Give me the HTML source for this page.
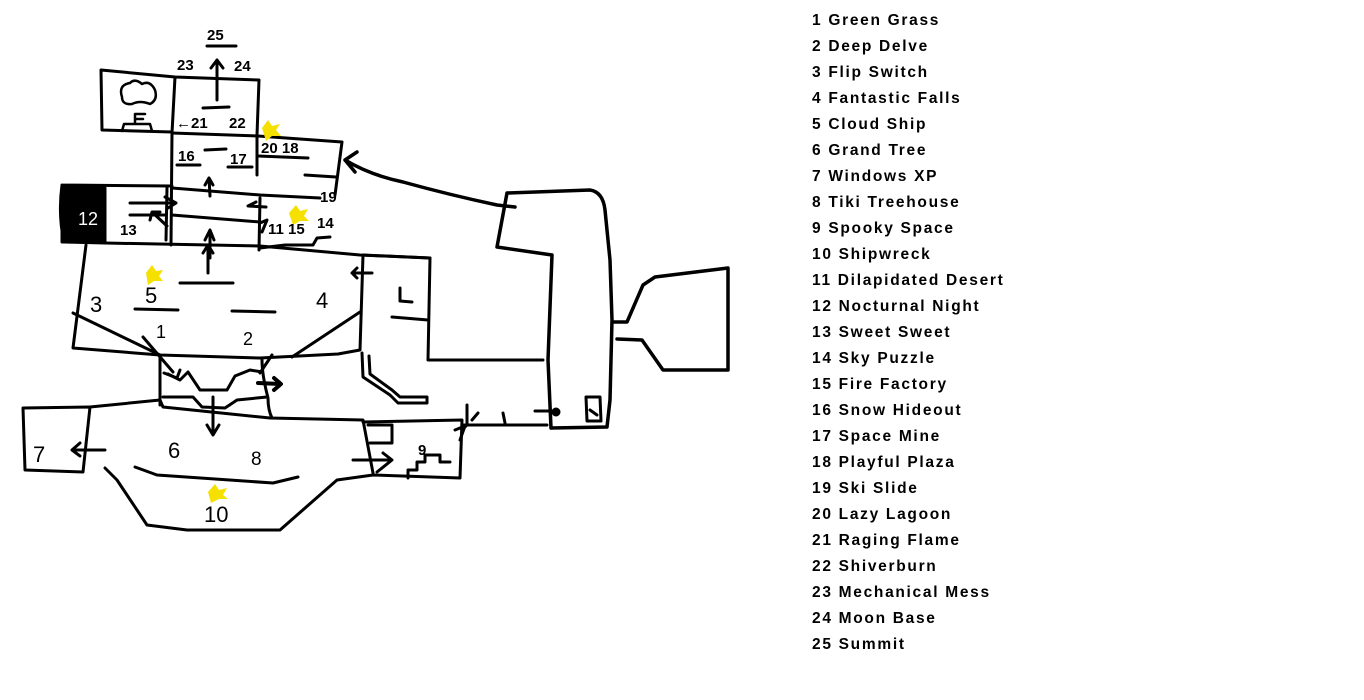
<!DOCTYPE html>
<html><head><meta charset="utf-8"><style>
html,body{margin:0;padding:0;background:#fff;width:1364px;height:700px;overflow:hidden}
svg{position:absolute;left:0;top:0}
.leg{font-family:"Liberation Sans",sans-serif;font-weight:bold;font-size:15.5px;letter-spacing:1.7px;fill:#000}
.n{font-family:"Liberation Sans",sans-serif;font-size:22px;fill:#000}
.s{font-family:"Liberation Sans",sans-serif;font-size:15px;font-weight:bold;fill:#000}
</style></head><body>
<svg width="1364" height="700" viewBox="0 0 1364 700">
<g fill="none" stroke="#000" stroke-width="3" stroke-linecap="round" stroke-linejoin="round">
<line x1="207" y1="46" x2="236" y2="46"/>
<path d="M217 100 L217 60 M211 68 L217 60 L223 68"/>
<path d="M101 70 L175 77 L259 80 L257 135 M101 70 L102 130 L172 132 M175 77 L172 133 L171 245"/>
<path d="M122 97 Q118 85 130 83 Q135 78 142 84 Q150 80 155 90 Q158 100 150 104 Q140 100 132 104 Q122 105 122 97 Z" stroke-width="2.5"/>
<path d="M122 131 L124 124 L150 124 L152 131 M135 124 L135 114 L145 114 M135 119 L143 119" stroke-width="2.5"/>
<line x1="203" y1="108" x2="229" y2="107"/>
<path d="M172 133 L258 136 L342 142 L335 195"/>
<line x1="257" y1="135" x2="257" y2="175"/>
<line x1="177" y1="165" x2="200" y2="165"/><line x1="228" y1="167" x2="252" y2="167"/><line x1="205" y1="150" x2="226" y2="149"/>
<line x1="258" y1="156" x2="308" y2="158"/><line x1="305" y1="175" x2="336" y2="177"/>
<path d="M172 188 L260 195 L320 198"/>
<path d="M62 185 L172 186 M62 185 Q58 215 64 242 L105 243 L260 246 L360 255 L430 258"/>
<path d="M62 188 L105 188 L105 242 L62 242 Z" fill="#000"/>
<line x1="167" y1="188" x2="166" y2="240"/>
<path d="M172 215 L260 222"/>
<line x1="260" y1="198" x2="259" y2="250"/>
<path d="M130 203 L172 203 M165 197 L176 203 L168 208"/>
<line x1="130" y1="215" x2="165" y2="215"/>
<path d="M167 226 L153 213 M150 220 L152 212 L160 212"/>
<path d="M210 196 L209 178 M205 185 L209 178 L213 185"/>
<path d="M210 258 L210 232 M205 240 L210 230 L214 240"/>
<path d="M256 202 L248 206 L266 207"/>
<path d="M260 223 L267 220 L262 232"/>
<path d="M260 248 L285 245 L313 245 L317 238 L330 237"/>
<path d="M86 245 L73 348 L160 355 L260 358 L338 354 L360 350 L363 255"/>
<line x1="73" y1="313" x2="160" y2="355"/><line x1="360" y1="312" x2="292" y2="357"/>
<line x1="135" y1="309" x2="178" y2="310"/><line x1="180" y1="283" x2="233" y2="283"/><line x1="232" y1="311" x2="275" y2="312"/>
<path d="M208 273 L208 245 M203 253 L208 245 L213 253"/>
<path d="M352 273 L372 273 M357 268 L352 273 L357 278"/>
<path d="M363 255 L430 258 L428 360 L543 360"/>
<path d="M400 288 L400 301 L412 302"/>
<path d="M392 317 L428 320"/>
<path d="M507 193 L590 190 Q603 192 605 210 L610 260 L612 320 L610 400 L607 427 L551 428 L548 360 L552 255 L497 247 Z" stroke-width="3.5"/>
<path d="M613 322 L627 322 L643 285 L655 277 L728 268 L728 370 L663 370 L642 340 L617 339" stroke-width="3.5"/>
<path d="M515 207 L497 205 Q450 195 403 182 Q370 175 345 160 M357 152 L345 160 L355 172" stroke-width="3.5"/>
<path d="M362 353 L363 377 L390 395 L398 403 L427 403 L427 397 L400 397 L392 390 L370 374 L369 356"/>
<path d="M463 425 L547 425 M503 413 L505 423 M535 411 L556 411"/>
<circle cx="556" cy="412" r="3" fill="#000"/>
<path d="M586 397 L600 397 L601 421 L587 421 Z"/><path d="M590 410 L597 415"/>
<path d="M467 405 L467 425 L462 430 M455 430 L465 426 L460 440 M472 420 L478 413"/>
<path d="M160 355 L160 405"/>
<path d="M143 337 L173 372 M164 373 L177 378 L180 370"/>
<path d="M168 374 L180 380 L188 372 L200 390 L227 390 L235 376 L250 370 L262 372"/>
<path d="M163 397 L193 397 L202 407 L225 408 L237 400 L267 397"/>
<path d="M213 397 L213 432 M207 425 L213 435 L219 425"/>
<path d="M272 355 L260 373 M262 360 Q262 375 268 398 Q268 410 272 418"/>
<path d="M258 383 L280 384 M274 378 L281 384 L274 390" stroke-width="4"/>
<path d="M90 407 L160 400 L163 407 L270 418 L363 420 L373 473"/>
<path d="M23 408 L90 407 L83 472 L25 470 Z"/>
<path d="M105 468 L117 480 L147 525 L187 530 L280 530 L337 480 L373 475 L460 478 L462 420 L363 422"/>
<path d="M135 467 L157 475 L273 483 L298 477"/>
<path d="M368 425 L392 425 L392 443 L370 443"/>
<path d="M408 478 L408 470 L417 470 L417 462 L425 462 L425 455 L440 455 L440 462 L450 462"/>
<path d="M353 460 L390 460 M383 453 L392 460 L377 472"/>
<path d="M72 450 L105 450 M80 443 L72 450 L80 456"/>
</g>
<g fill="#f5e000">
<path d="M262 128 l6 -8 l4 6 l8 -2 l-4 6 l5 6 l-9 0 l-6 5 Z"/>
<path d="M289 213 l7 -8 l4 6 l8 -2 l-4 7 l5 5 l-9 0 l-7 4 Z"/>
<path d="M146 273 l6 -8 l4 6 l7 -1 l-4 6 l4 5 l-9 0 l-6 4 Z"/>
<path d="M208 492 l7 -8 l4 6 l8 -2 l-4 7 l5 4 l-9 0 l-8 4 Z"/>
</g>
<g>
<text class="s" x="207" y="40">25</text>
<text class="s" x="177" y="70">23</text><text class="s" x="234" y="71">24</text>
<text class="s" x="176" y="128">←21</text><text class="s" x="229" y="128">22</text>
<text class="s" x="178" y="161">16</text><text class="s" x="230" y="164">17</text>
<text class="s" x="261" y="153">20 18</text>
<text class="s" x="320" y="202">19</text>
<text class="s" x="120" y="235">13</text><text class="s" x="268" y="234">11 15</text><text class="s" x="317" y="228">14</text>
<text class="n" x="90" y="312">3</text><text class="n" x="145" y="303">5</text><text class="n" x="316" y="308">4</text>
<text class="n" x="156" y="338" style="font-size:18px">1</text><text class="n" x="243" y="345" style="font-size:18px">2</text>
<text class="n" x="33" y="462">7</text><text class="n" x="168" y="458">6</text><text class="n" x="251" y="465" style="font-size:19px">8</text>
<text class="n" x="204" y="522">10</text>
<text class="s" x="418" y="455">9</text>
</g>
<g class="leg">
<text x="812" y="25">1 Green Grass</text>
<text x="812" y="51">2 Deep Delve</text>
<text x="812" y="77">3 Flip Switch</text>
<text x="812" y="103">4 Fantastic Falls</text>
<text x="812" y="129">5 Cloud Ship</text>
<text x="812" y="155">6 Grand Tree</text>
<text x="812" y="181">7 Windows XP</text>
<text x="812" y="207">8 Tiki Treehouse</text>
<text x="812" y="233">9 Spooky Space</text>
<text x="812" y="259">10 Shipwreck</text>
<text x="812" y="285">11 Dilapidated Desert</text>
<text x="812" y="311">12 Nocturnal Night</text>
<text x="812" y="337">13 Sweet Sweet</text>
<text x="812" y="363">14 Sky Puzzle</text>
<text x="812" y="389">15 Fire Factory</text>
<text x="812" y="415">16 Snow Hideout</text>
<text x="812" y="441">17 Space Mine</text>
<text x="812" y="467">18 Playful Plaza</text>
<text x="812" y="493">19 Ski Slide</text>
<text x="812" y="519">20 Lazy Lagoon</text>
<text x="812" y="545">21 Raging Flame</text>
<text x="812" y="571">22 Shiverburn</text>
<text x="812" y="597">23 Mechanical Mess</text>
<text x="812" y="623">24 Moon Base</text>
<text x="812" y="649">25 Summit</text>
</g>
<text x="78" y="225" fill="#fff" style="font-family:'Liberation Sans',sans-serif;font-size:18px">12</text>
</svg>
</body></html>
